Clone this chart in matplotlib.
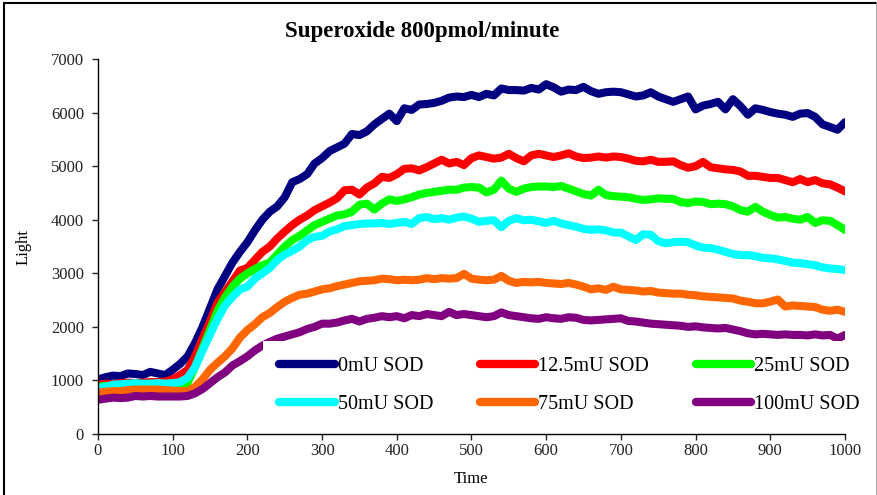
import numpy as np
import matplotlib
matplotlib.use("Agg")
import matplotlib.pyplot as plt
from matplotlib.lines import Line2D

plt.rcParams['font.family'] = ['Liberation Serif', 'DejaVu Serif']

# time axis, one reading every 10 units
time = list(range(0, 1001, 10))

sod_0 = [1020, 1060, 1090, 1080, 1130, 1120, 1100, 1160, 1130, 1100,
         1200, 1310, 1450, 1700, 2000, 2350, 2700, 2950, 3200, 3400,
         3580, 3800, 4000, 4150, 4250, 4420, 4700, 4760, 4850, 5050,
         5150, 5280, 5350, 5420, 5600, 5580, 5650, 5780, 5880, 5980,
         5840, 6080, 6050, 6150, 6160, 6180, 6220, 6280, 6300, 6290,
         6330, 6290, 6350, 6320, 6450, 6420, 6420, 6410, 6460, 6430,
         6530, 6470, 6390, 6430, 6420, 6480, 6400, 6350, 6380, 6390,
         6380, 6340, 6300, 6320, 6380, 6300, 6250, 6200, 6250, 6300,
         6060, 6130, 6160, 6200, 6060, 6250, 6120, 5960, 6080, 6050,
         6010, 5980, 5960, 5920, 5980, 5990, 5920, 5780, 5730, 5680,
         5820]

sod_12_5 = [920, 940, 930, 950, 960, 950, 960, 970, 970, 980,
            1020, 1100, 1200, 1450, 1780, 2100, 2450, 2650, 2850, 3050,
            3100, 3250, 3400, 3500, 3650, 3780, 3900, 4000, 4080, 4180,
            4250, 4320, 4400, 4550, 4560, 4470, 4600, 4680, 4800, 4780,
            4850, 4950, 4960, 4920, 4980, 5050, 5120, 5050, 5080, 5020,
            5150, 5200, 5170, 5140, 5160, 5230, 5150, 5090, 5200, 5230,
            5200, 5170, 5200, 5240, 5180, 5150, 5160, 5180, 5160, 5180,
            5170, 5140, 5100, 5090, 5120, 5080, 5080, 5090, 5020, 4970,
            5000, 5080, 4980, 4960, 4940, 4930, 4900, 4820, 4820, 4800,
            4780, 4780, 4740, 4700, 4760, 4700, 4740, 4680, 4660, 4600,
            4530]

sod_25 = [880, 900, 890, 900, 910, 900, 900, 910, 900, 890,
          880, 880, 960, 1250, 1600, 1950, 2300, 2550, 2750, 2900,
          3000, 3080, 3150, 3200, 3350, 3500, 3620, 3700, 3800, 3900,
          3960, 4020, 4080, 4100, 4150, 4280, 4300, 4190, 4300, 4380,
          4350, 4380, 4420, 4470, 4500, 4520, 4540, 4560, 4560, 4600,
          4610, 4600, 4510, 4560, 4730, 4580, 4520, 4580, 4610, 4620,
          4620, 4610, 4630, 4580, 4530, 4480, 4450, 4560, 4460, 4440,
          4430, 4420, 4390, 4370, 4380, 4400, 4390, 4390, 4330, 4310,
          4340, 4330, 4290, 4300, 4290, 4250, 4180, 4150, 4240, 4150,
          4090, 4040, 4050, 4020, 4000, 4050, 3940, 3990, 3980, 3900,
          3810]

sod_50 = [860, 880, 920, 930, 940, 950, 940, 940, 950, 940,
          950, 970, 1050, 1250, 1560, 1860, 2150, 2400, 2560, 2700,
          2750, 2900, 3000, 3100, 3250, 3350, 3420, 3500, 3620, 3680,
          3700, 3780, 3820, 3880, 3900, 3920, 3930, 3930, 3940, 3920,
          3940, 3960, 3920, 4030, 4050, 4010, 4030, 4000, 4040, 4060,
          4020, 3960, 3980, 3990, 3860, 3980, 4030, 3990, 4000, 3970,
          3940, 3980, 3930, 3900, 3870, 3830, 3810, 3820, 3800, 3760,
          3760, 3690, 3620, 3730, 3720, 3600, 3560, 3580, 3590, 3580,
          3520, 3480, 3470, 3440, 3400, 3360, 3340, 3340, 3320, 3290,
          3280, 3260, 3230, 3200, 3190, 3170, 3150, 3110, 3090, 3080,
          3060]

sod_75 = [770, 790, 800, 800, 820, 830, 830, 830, 830, 820,
          810, 800, 800, 880, 1020, 1200, 1330, 1450, 1600, 1800,
          1940, 2050, 2180, 2260, 2370, 2470, 2540, 2600, 2620, 2660,
          2700, 2720, 2760, 2790, 2820, 2850, 2860, 2870, 2900, 2890,
          2870, 2880, 2870, 2880, 2910, 2890, 2910, 2900, 2910, 2990,
          2900, 2880, 2870, 2880, 2950, 2860, 2820, 2840, 2830, 2840,
          2820, 2810, 2800, 2820, 2790, 2750, 2700, 2720, 2690, 2750,
          2700, 2690, 2680, 2660, 2670, 2640, 2630, 2620, 2620, 2600,
          2590, 2570, 2560, 2550, 2540, 2530, 2490, 2470, 2440, 2440,
          2470, 2510, 2380, 2400, 2390, 2380, 2370, 2320, 2300, 2320,
          2280]

sod_100 = [640, 660, 680, 670, 680, 710, 700, 710, 700, 700,
           700, 700, 710, 760, 840, 950, 1060, 1150, 1280, 1360,
           1450, 1560, 1650, 1720, 1780, 1820, 1860, 1900, 1960, 2000,
           2060, 2060, 2080, 2120, 2150, 2100, 2150, 2170, 2200, 2180,
           2200, 2160, 2220, 2200, 2240, 2220, 2200, 2280, 2220, 2240,
           2220, 2200, 2180, 2200, 2270, 2220, 2200, 2180, 2160, 2150,
           2180, 2160, 2150, 2180, 2170, 2130, 2120, 2130, 2140, 2150,
           2160, 2110, 2100, 2080, 2060, 2050, 2040, 2030, 2020, 2000,
           2010, 1990, 1980, 1970, 1980, 1950, 1920, 1880, 1860, 1870,
           1860, 1850, 1860, 1850, 1850, 1840, 1860, 1840, 1850, 1780,
           1850]

labels = ["0mU SOD", "12.5mU SOD", "25mU SOD", "50mU SOD", "75mU SOD", "100mU SOD"]
series = [sod_0, sod_12_5, sod_25, sod_50, sod_75, sod_100]
colors = ["#000080", "#FF0000", "#00FF00", "#00FFFF", "#FF6600", "#800080"]

fig = plt.figure(figsize=(8.78, 4.95), dpi=100)
ax = fig.add_axes([0.1116, 0.1232, 0.8508, 0.7576])

lines = []
for vals, lab, col in zip(series, labels, colors):
    ln, = ax.plot(time, vals, color=col, lw=5.8, label=lab, solid_capstyle='round')
    lines.append(ln)

ax.set_xlim(0, 1000)
ax.set_ylim(0, 7000)
ax.set_xticks(range(0, 1001, 100))
ax.set_yticks(range(0, 7001, 1000))
ax.tick_params(direction='out', length=4, width=1, labelsize=12, colors='#222222')
ax.tick_params(axis='y', pad=6)
ax.tick_params(axis='x', pad=2.5)
for s in ['top', 'right']:
    ax.spines[s].set_visible(False)
for s in ['left', 'bottom']:
    ax.spines[s].set_linewidth(1)

ax.set_xlabel("Time", fontsize=12, labelpad=8.5)
ax.set_ylabel("Light", fontsize=12, labelpad=14)
fig.text(0.481, 0.937, "Superoxide 800pmol/minute", ha='center', va='center',
         fontsize=16.5, fontweight='bold')

# row-major legend order (matplotlib fills columns first)
order = [0, 3, 1, 4, 2, 5]
leg = ax.legend([lines[i] for i in order], [labels[i] for i in order],
                ncol=3, loc='upper left', bbox_to_anchor=(0.221, 0.248),
                fontsize=14.5, frameon=True, fancybox=False, framealpha=1,
                edgecolor='none', facecolor='white', handlelength=2.75,
                handletextpad=0.17, columnspacing=2.3, labelspacing=0.95,
                borderpad=0.8, borderaxespad=0)
for h in leg.get_lines():
    h.set_linewidth(6)
    h.set_solid_capstyle('round')

# outer frame: black left/top, grey right
fig.add_artist(Line2D([0.0045, 0.0045], [0, 0.994], transform=fig.transFigure, color='black', lw=1.5))
fig.add_artist(Line2D([0.0045, 0.999], [0.994, 0.994], transform=fig.transFigure, color='black', lw=1.5))
fig.add_artist(Line2D([0.9985, 0.9985], [0, 0.994], transform=fig.transFigure, color='#999999', lw=1.2))

fig.savefig("out.png", dpi=100)
